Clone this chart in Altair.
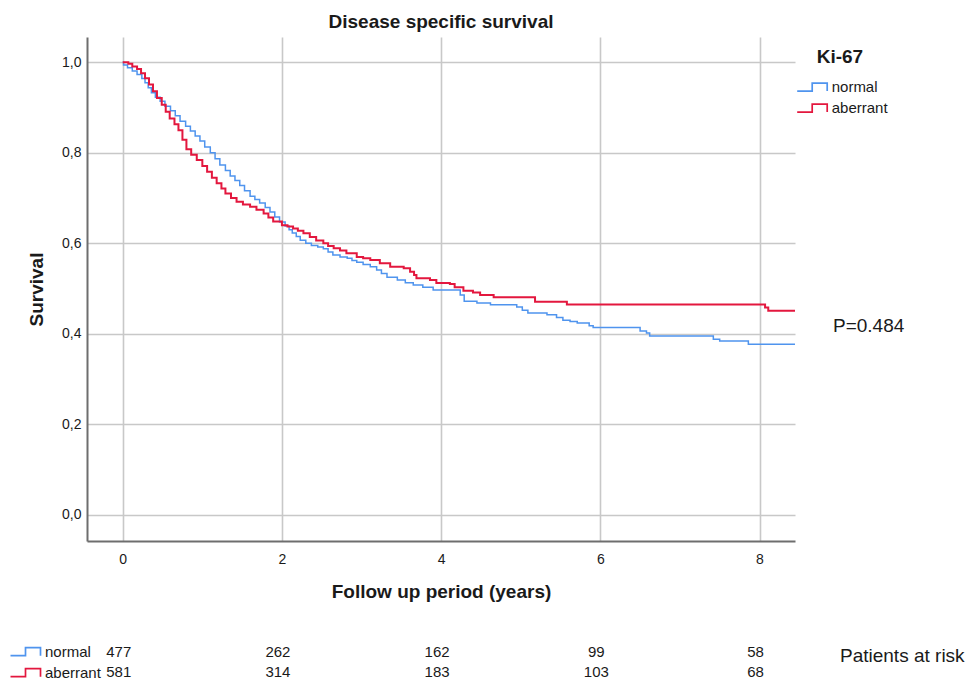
import altair as alt
import pandas as pd

# ---------------- data ----------------
groups = ["normal", "aberrant"]

normal_t = [0.00, 0.01, 0.06, 0.12, 0.18, 0.24, 0.28, 0.32, 0.36, 0.41, 0.47, 0.53,
            0.60, 0.66, 0.72, 0.79, 0.85, 0.91, 0.97, 1.03, 1.10, 1.16, 1.22, 1.29,
            1.35, 1.41, 1.47, 1.53, 1.60, 1.66, 1.72, 1.79, 1.85, 1.91, 1.97, 2.04,
            2.09, 2.13, 2.18, 2.23, 2.30, 2.37, 2.45, 2.52, 2.58, 2.64, 2.73, 2.82,
            2.88, 2.94, 3.02, 3.11, 3.19, 3.25, 3.32, 3.45, 3.55, 3.65, 3.77, 3.90,
            4.24, 4.29, 4.45, 4.62, 4.95, 5.02, 5.09, 5.33, 5.45, 5.53, 5.62, 5.71,
            5.86, 5.91, 6.50, 6.58, 6.62, 7.42, 7.50, 7.86, 8.446]
normal_s = [1.000, 0.994, 0.988, 0.981, 0.973, 0.964, 0.955, 0.944, 0.933, 0.923, 0.914, 0.903,
            0.893, 0.882, 0.870, 0.859, 0.848, 0.837, 0.826, 0.813, 0.800, 0.787, 0.773, 0.761,
            0.749, 0.739, 0.728, 0.716, 0.704, 0.697, 0.689, 0.679, 0.669, 0.658, 0.647, 0.638,
            0.630, 0.623, 0.615, 0.607, 0.600, 0.595, 0.592, 0.588, 0.581, 0.574, 0.570, 0.567,
            0.562, 0.558, 0.553, 0.548, 0.541, 0.533, 0.525, 0.519, 0.513, 0.508, 0.503, 0.497,
            0.486, 0.472, 0.468, 0.464, 0.459, 0.452, 0.446, 0.442, 0.436, 0.430, 0.427, 0.424,
            0.418, 0.414, 0.406, 0.402, 0.395, 0.388, 0.384, 0.377, 0.377]

aberrant_t = [0.00, 0.07, 0.12, 0.18, 0.23, 0.28, 0.33, 0.38, 0.43, 0.49, 0.54, 0.59,
              0.65, 0.70, 0.75, 0.80, 0.86, 0.93, 1.00, 1.06, 1.12, 1.18, 1.24, 1.29,
              1.36, 1.43, 1.51, 1.60, 1.68, 1.77, 1.83, 1.89, 2.00, 2.07, 2.14, 2.20,
              2.27, 2.35, 2.43, 2.52, 2.58, 2.65, 2.73, 2.81, 2.94, 3.02, 3.11, 3.23,
              3.36, 3.53, 3.61, 3.66, 3.69, 3.86, 3.94, 4.11, 4.17, 4.28, 4.40, 4.49,
              4.66, 5.18, 5.58, 8.07, 8.11, 8.446]
aberrant_s = [1.000, 0.997, 0.991, 0.985, 0.976, 0.965, 0.951, 0.936, 0.921, 0.906, 0.891, 0.876,
              0.863, 0.850, 0.829, 0.808, 0.796, 0.784, 0.771, 0.758, 0.745, 0.733, 0.721, 0.710,
              0.700, 0.692, 0.686, 0.681, 0.674, 0.666, 0.657, 0.648, 0.640, 0.637, 0.633, 0.628,
              0.622, 0.614, 0.606, 0.600, 0.594, 0.589, 0.584, 0.578, 0.570, 0.567, 0.563, 0.556,
              0.548, 0.545, 0.537, 0.530, 0.523, 0.519, 0.512, 0.510, 0.503, 0.495, 0.491, 0.486,
              0.481, 0.471, 0.465, 0.458, 0.451, 0.451]

risk_times = [0, 2, 4, 6, 8]
risk_normal = [477, 262, 162, 99, 58]
risk_aberrant = [581, 314, 183, 103, 68]

x_ticks = [0, 2, 4, 6, 8]
y_ticks = [0.0, 0.2, 0.4, 0.6, 0.8, 1.0]

title_text = "Disease specific survival"
x_title = "Follow up period (years)"
y_title = "Survival"
legend_title = "Ki-67"
p_text = "P=0.484"
risk_caption = "Patients at risk"

# ---------------- tables ----------------
km = pd.DataFrame({
    "time": normal_t + aberrant_t,
    "survival": normal_s + aberrant_s,
    "group": ["normal"] * len(normal_t) + ["aberrant"] * len(aberrant_t),
})
km_start = km[km["time"] == 0].reset_index(drop=True)

risk = pd.DataFrame({
    "time": risk_times * 2,
    "n": risk_normal + risk_aberrant,
    "row": ["normal"] * len(risk_times) + ["aberrant"] * len(risk_times),
})
notes = pd.DataFrame({"p": [p_text], "cap": [risk_caption], "title": [title_text]})

# ---------------- styling ----------------
FONT = "Liberation Sans"
BLUE = "#4F94EE"
RED = "#E3173E"
TXT = "#1a1a1a"
STEP = "M-5.4,0.8H-2.4V-0.8H0.6V0.8"

x_scale = alt.Scale(domain=[-0.449, 8.446], nice=False, zero=False)
y_scale = alt.Scale(domain=[-0.058, 1.056], nice=False, zero=False)
color_scale = alt.Scale(domain=groups, range=[BLUE, RED])

x_axis = alt.Axis(values=x_ticks, format="d", title=x_title, ticks=False, tickSize=0,
                  labelPadding=11, labelFontSize=14, labelColor=TXT, labelFont=FONT,
                  domainColor="#6e6e6e", domainWidth=2,
                  grid=True, gridColor="#c8c8c8", gridWidth=1.6,
                  titleFont=FONT, titleFontSize=19, titleFontWeight="bold", titleColor=TXT,
                  titleY=56, titleBaseline="alphabetic")
y_axis = alt.Axis(values=y_ticks, title=y_title, ticks=False, tickSize=0,
                  labelExpr="replace(format(datum.value, '.1f'), '.', ',')",
                  labelPadding=6, labelFontSize=14, labelColor=TXT, labelFont=FONT,
                  domainColor="#6e6e6e", domainWidth=2,
                  grid=True, gridColor="#c8c8c8", gridWidth=1.6,
                  titleFont=FONT, titleFontSize=19, titleFontWeight="bold", titleColor=TXT,
                  titleX=-45, titleY=252, titleAngle=270, titleBaseline="alphabetic",
                  titleAlign="center")

legend_common = dict(orient="none", symbolType=STEP, symbolSize=100,
                     symbolStrokeWidth=1.7, symbolFillColor="transparent",
                     symbolOpacity=1, labelOffset=0, rowPadding=5, padding=0,
                     labelFont=FONT, labelFontSize=15, labelColor=TXT)

lines = alt.Chart(km).mark_line(interpolate="step-after").encode(
    x=alt.X("time:Q", scale=x_scale, axis=x_axis),
    y=alt.Y("survival:Q", scale=y_scale, axis=y_axis),
    color=alt.Color("group:N", scale=color_scale,
                    legend=alt.Legend(title=legend_title, legendX=729.7, legendY=10.6,
                                      titleFont=FONT, titleFontSize=19,
                                      titleFontWeight="bold", titleColor=TXT,
                                      titlePadding=13, **legend_common)),
    strokeWidth=alt.StrokeWidth("group:N",
                                scale=alt.Scale(domain=groups, range=[1.5, 2.0]),
                                legend=None),
)

risk_legend = alt.Chart(km_start).mark_line(strokeWidth=1.7).encode(
    x=alt.X("time:Q", scale=x_scale),
    y=alt.Y("survival:Q", scale=y_scale, axis=None),
    color=alt.Color("group:N", scale=color_scale,
                    legend=alt.Legend(title=None, legendX=-57, legendY=607.2,
                                      **legend_common)),
)

risk_text = alt.Chart(risk).mark_text(font=FONT, fontSize=15, color=TXT,
                                      align="center", baseline="middle", dx=-4).encode(
    x=alt.X("time:Q", scale=x_scale),
    y=alt.Y("row:N", scale=alt.Scale(type="point", domain=groups, range=[614.7, 634.7],
                                     padding=0), axis=None),
    text="n:Q",
)

title_mark = alt.Chart(notes).mark_text(font=FONT, fontSize=19, fontWeight="bold",
                                        color=TXT, align="center",
                                        baseline="alphabetic").encode(
    x=alt.value(354), y=alt.value(-9), text="title:N")

p_mark = alt.Chart(notes).mark_text(font=FONT, fontSize=19, color=TXT,
                                    align="left", baseline="middle").encode(
    x=alt.value(746), y=alt.value(289), text="p:N")

cap_mark = alt.Chart(notes).mark_text(font=FONT, fontSize=19, color=TXT,
                                      align="left", baseline="middle").encode(
    x=alt.value(753), y=alt.value(619), text="cap:N")

chart = alt.layer(lines, risk_legend, risk_text, title_mark, p_mark, cap_mark).resolve_scale(
    color="independent", y="independent"
).resolve_legend(color="independent").properties(
    width=708, height=504,
    padding={"left": 87, "top": 37, "right": 176, "bottom": 140},
    autosize=alt.AutoSizeParams(type="none"),
    background="white",
).configure_view(stroke=None)

chart.save("out.html", embed_options={"renderer": "svg", "actions": False})
